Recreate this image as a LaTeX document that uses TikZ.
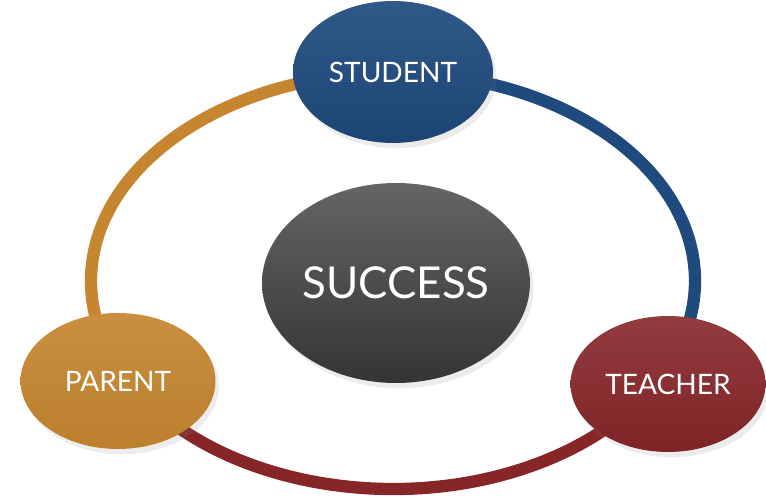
\documentclass[tikz,border=0pt]{standalone}
\usepackage{fontspec}
\setmainfont{Lato}
\usepackage{tikz}
\usetikzlibrary{shapes.geometric, shadows}
\definecolor{ringorange}{HTML}{C5862F}
\definecolor{ringblue}{HTML}{1E4A7E}
\definecolor{ringred}{HTML}{862629}
\definecolor{succgray}{HTML}{3E3E40}

\begin{document}
\begin{tikzpicture}[x=0.02cm, y=0.02cm,
  ring/.style = {line width=7pt},
  role/.style = {ellipse, inner sep=0pt, minimum width=3.9cm, minimum height=2.72cm,
    text=white, font=\fontsize{16}{18}\selectfont,
    drop shadow={opacity=0.15, shadow xshift=2pt, shadow yshift=-3pt}},
  goal/.style = {role, minimum width=5.36cm, minimum height=4cm, font=\fontsize{25}{28}\selectfont}]
\useasboundingbox (0,0) rectangle (766,502);
\coordinate (mid) at (393,221);
% ring
\draw [ring, ringorange] (mid) ++(90:302 and 208) arc [start angle=90, end angle=212, x radius=302, y radius=208];
\draw [ring, ringblue] (mid) ++(90:302 and 208) arc [start angle=90, end angle=-32, x radius=302, y radius=208];
\draw [ring, ringred] (mid) ++(212:302 and 208) arc [start angle=212, end angle=328, x radius=302, y radius=208];
% nodes
\node [role, minimum width=4cm, minimum height=2.84cm, top color=ringblue!92!white, bottom color=ringblue!92!black] (student) at (393,430) {STUDENT};
\node [role, top color=ringorange!92!white, bottom color=ringorange!95!black] (parent) at (118,121) {PARENT};
\node [role, top color=ringred!90!white, bottom color=ringred!94!black] (teacher) at (668,118) {TEACHER};
\node [goal, top color=succgray!80!white, bottom color=succgray!85!black] (success) at (396,219) {SUCCESS};
\end{tikzpicture}
\end{document}
